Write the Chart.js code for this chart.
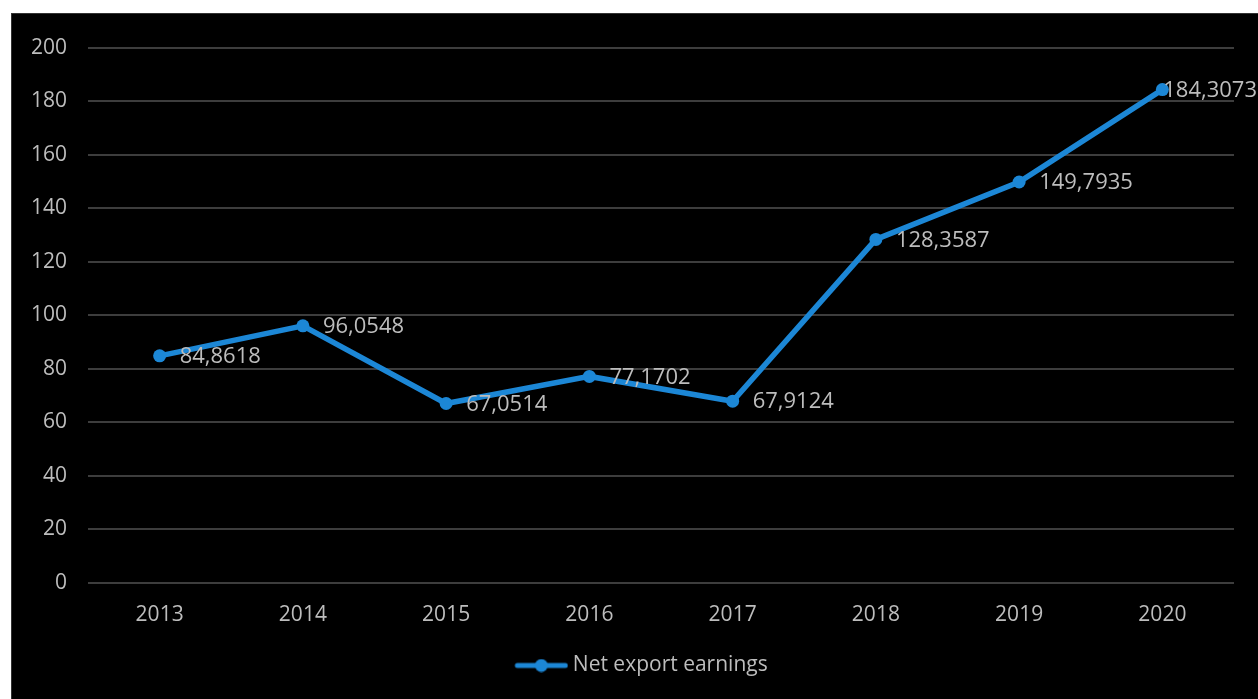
<!DOCTYPE html>
<html>
<head>
<meta charset="utf-8">
<script src="https://cdn.jsdelivr.net/npm/chart.js@4"></script>
<style>
  html, body { margin: 0; padding: 0; background: #ffffff; }
  #wrap {
    position: absolute; left: 11px; top: 13px;
    width: 1247px; height: 686px;
    background: #000000; border-top: 1px solid #333; border-left: 1px solid #333;
  }
</style>
</head>
<body>
<div id="wrap"><canvas id="myLineChart" width="1246" height="685"></canvas></div>
<script>
// categorias e valores
const anos = ['2013', '2014', '2015', '2016', '2017', '2018', '2019', '2020'];
const exportacoes = [84.8618, 96.0548, 67.0514, 77.1702, 67.9124, 128.3587, 149.7935, 184.3073];
const ticksY = [0, 20, 40, 60, 80, 100, 120, 140, 160, 180, 200];

const azul = '#1c87d6';
const cinzaTexto = '#bdbdbd';
const fonte = 'Open Sans';

// amostra da legenda: linha com bolinha (com espaço vazio à esquerda p/ centralizar)
const amostra = document.createElement('canvas');
amostra.width = 96; amostra.height = 14;
(function () {
    const c = amostra.getContext('2d');
    c.strokeStyle = azul; c.lineWidth = 5; c.lineCap = 'round';
    c.beginPath(); c.moveTo(45, 7); c.lineTo(93, 7); c.stroke();
    c.fillStyle = azul;
    c.beginPath(); c.arc(69, 7, 6.5, 0, Math.PI * 2); c.fill();
})();

// rótulos de dados à direita de cada ponto
const rotulos = {
    id: 'rotulos',
    afterDatasetsDraw(chart) {
        const ctx = chart.ctx;
        const meta = chart.getDatasetMeta(0);
        ctx.save();
        ctx.font = '22px "' + fonte + '"';
        ctx.fillStyle = cinzaTexto;
        ctx.textAlign = 'left';
        ctx.textBaseline = 'middle';
        meta.data.forEach((p, i) => {
            const txt = exportacoes[i].toFixed(4).replace('.', ',');
            const w = ctx.measureText(txt).width;
            let x = p.x + 20;
            if (x + w > chart.width - 1) x = chart.width - 1 - w;
            ctx.fillText(txt, x, p.y + 1);
        });
        ctx.restore();
    }
};

const ctx = document.getElementById('myLineChart').getContext('2d');

const config = {
    type: 'line',
    data: {
        labels: anos,
        datasets: [{
            label: 'Net export earnings',
            data: exportacoes,
            borderColor: azul,
            backgroundColor: azul,
            borderWidth: 5.5,
            pointRadius: 6.5,
            pointBackgroundColor: azul,
            pointBorderWidth: 0,
            tension: 0
        }]
    },
    options: {
        responsive: false,
        animation: false,
        layout: { padding: { top: 18, right: 24, bottom: 13, left: 0 } },
        plugins: {
            tooltip: { enabled: false },
            legend: {
                position: 'bottom',
                labels: {
                    color: cinzaTexto,
                    font: { family: fonte, size: 21 },
                    usePointStyle: true,
                    pointStyleWidth: 84,
                    padding: 10,
                    generateLabels: () => [{
                        text: 'Net export earnings',
                        pointStyle: amostra,
                        fontColor: cinzaTexto,
                        lineWidth: 0,
                        datasetIndex: 0
                    }]
                }
            }
        },
        scales: {
            x: {
                offset: true,
                grid: { display: false },
                border: { display: false },
                ticks: { color: cinzaTexto, font: { family: fonte, size: 21 }, padding: 11, maxRotation: 0 },
                afterFit: (s) => { s.height = 62; }
            },
            y: {
                min: 0,
                max: 200,
                afterBuildTicks: (s) => { s.ticks = ticksY.map(v => ({ value: v })); },
                grid: { color: '#3d3d3d', lineWidth: 2, drawTicks: false },
                border: { display: false },
                ticks: { color: cinzaTexto, font: { family: fonte, size: 21 }, padding: 21 },
                afterFit: (s) => { s.width = 76; }
            }
        }
    },
    plugins: [rotulos]
};

new Chart(ctx, config);
</script>
</body>
</html>
